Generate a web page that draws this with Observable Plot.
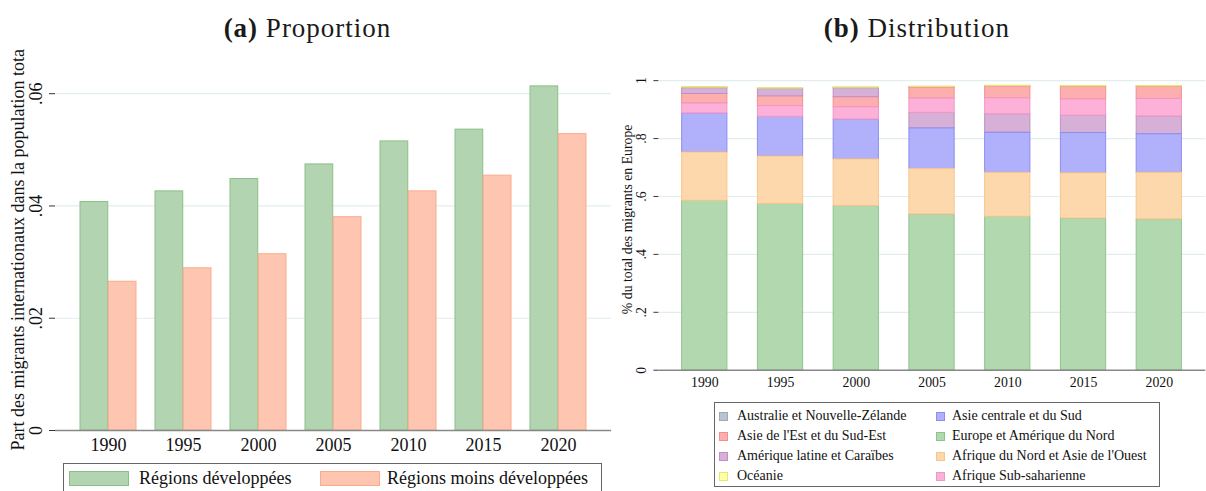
<!DOCTYPE html>
<html><head><meta charset="utf-8">
<script src="https://cdn.jsdelivr.net/npm/d3@7"></script>
<script src="https://cdn.jsdelivr.net/npm/@observablehq/plot@0.6"></script>
<style>
html,body{margin:0;padding:0;background:#fff;}
body{width:1206px;height:491px;overflow:hidden;position:relative;font-family:"Liberation Serif",serif;color:#111;}
.title{position:absolute;top:12px;font-size:27px;line-height:32px;letter-spacing:1px;text-align:center;font-family:"Liberation Serif",serif;color:#1a1a1a;}
#left,#right{position:absolute;top:50px;}
#left{left:0;} #right{left:600px;}
.legbox{position:absolute;box-sizing:border-box;border:1px solid #666;background:#fff;}
.sw{position:absolute;box-sizing:border-box;border:1px solid;}
.lt{position:absolute;white-space:nowrap;line-height:20px;}
</style></head><body>
<div class="title" style="left:0;width:615px"><b>(a)</b> Proportion</div>
<div class="title" style="left:620px;width:594px"><b>(b)</b> Distribution</div>
<div id="left"></div>
<div id="right"></div>
<div id="legL" class="legbox" style="left:63px;top:463px;width:539px;height:40px;"></div>
<div id="legR" class="legbox" style="left:714px;top:402px;width:446px;height:85px;"></div>
<script>
// ---------- data ----------
const years = [1990, 1995, 2000, 2005, 2010, 2015, 2020];

// Panel (a)
const leftSeries = ["Régions développées", "Régions moins développées"];
const devShare  = [0.0407, 0.0426, 0.0448, 0.0474, 0.0515, 0.0536, 0.0613];
const lessShare = [0.0265, 0.0289, 0.0314, 0.0380, 0.0426, 0.0454, 0.0528];
const leftFill   = ["#b3d4b1", "#fec5b0"];
const leftStroke = ["#8cbf89", "#fbab8e"];
const leftYTicks = [0, 0.02, 0.04, 0.06];

// Panel (b)
const regions = [
  "Australie et Nouvelle-Zélande",
  "Asie de l'Est et du Sud-Est",
  "Amérique latine et Caraïbes",
  "Océanie",
  "Asie centrale et du Sud",
  "Europe et Amérique du Nord",
  "Afrique du Nord et Asie de l'Ouest",
  "Afrique Sub-saharienne"
];
const australie   = [0.0020, 0.0015, 0.0015, 0.0020, 0.0015, 0.0020, 0.0020];
const asieEst     = [0.033, 0.034, 0.035, 0.038, 0.041, 0.043, 0.041];
const ameriqueLat = [0.020, 0.025, 0.031, 0.054, 0.064, 0.060, 0.0615];
const oceanie     = [0.0015, 0.0012, 0.0012, 0.0015, 0.0012, 0.0015, 0.0015];
const asieCentr   = [0.135, 0.137, 0.138, 0.140, 0.138, 0.139, 0.133];
const europeAmN   = [0.585, 0.574, 0.567, 0.538, 0.530, 0.524, 0.521];
const afriqueNord = [0.167, 0.164, 0.161, 0.157, 0.152, 0.156, 0.161];
const afriqueSub  = [0.034, 0.037, 0.042, 0.049, 0.055, 0.056, 0.0605];
const regionValues = [australie, asieEst, ameriqueLat, oceanie, asieCentr, europeAmN, afriqueNord, afriqueSub];
const regionFill   = ["#b8c4d0", "#fdaeae", "#d6b0d7", "#ffffa8", "#b0b0fb", "#b2d8b0", "#fdd8ad", "#fdb1d8"];
const regionStroke = ["#9aaabb", "#f48e8e", "#bf90c0", "#e6e670", "#8c8cf4", "#8cc489", "#f9c48a", "#f296c3"];
const rightYTicks = [0, 0.2, 0.4, 0.6, 0.8, 1];

// ---------- helpers ----------
const fmtTick = d => d === 0 ? "0" : d === 1 ? "1" : String(+d.toFixed(2)).replace(/^0/, "");
const gridColor = "#e3eded";

// ---------- panel (a) ----------
const leftData = years.flatMap((y, i) => [
  {year: y, s: 0, value: devShare[i]},
  {year: y, s: 1, value: lessShare[i]}
]);
const half = 28.25;
const leftPlot = Plot.plot({
  width: 611, height: 410,
  marginLeft: 55, marginRight: 0, marginTop: 18.5, marginBottom: 30,
  style: {fontFamily: "Liberation Serif", background: "transparent", overflow: "visible", color: "#111"},
  x: {type: "band", domain: years, paddingInner: 0.256, paddingOuter: 0.294},
  y: {domain: [0, 0.0644]},
  color: {type: "identity"},
  marks: [
    Plot.gridY(leftYTicks.filter(d => d > 0), {stroke: gridColor, strokeOpacity: 1, strokeWidth: 1.2}),
    Plot.barY(leftData.filter(d => d.s === 0), {x: "year", y: "value", fill: leftFill[0], stroke: leftStroke[0], insetRight: half}),
    Plot.barY(leftData.filter(d => d.s === 1), {x: "year", y: "value", fill: leftFill[1], stroke: leftStroke[1], insetLeft: half}),
    Plot.axisX({tickSize: 0, tickPadding: 8, fontSize: 18, tickFormat: d => `${d}`, label: null}),
    Plot.axisY({ticks: leftYTicks, tickFormat: fmtTick, tickRotate: -90, tickSize: 6, tickPadding: 8, fontSize: 18,
      line: true, stroke: "#333",
      label: "Part des migrants internationaux dans la population tota", labelAnchor: "center", labelOffset: 44, labelArrow: "none"}),
    Plot.ruleY([0], {stroke: "#888", strokeWidth: 1.5})
  ]
});
document.getElementById("left").appendChild(leftPlot);

// ---------- panel (b) ----------
const rightData = regions.flatMap((r, j) => years.map((y, i) => ({year: y, region: j, value: regionValues[j][i]})));
const rightPlot = Plot.plot({
  width: 616, height: 350,
  marginLeft: 59.3, marginRight: 0.7, marginTop: 18.3, marginBottom: 25,
  style: {fontFamily: "Liberation Serif", background: "transparent", overflow: "visible", color: "#111"},
  x: {type: "band", domain: years, paddingInner: 0.401, paddingOuter: 0.289},
  y: {domain: [0, 1.042]},
  color: {type: "identity"},
  marks: [
    Plot.gridY(rightYTicks.filter(d => d > 0), {stroke: gridColor, strokeOpacity: 1, strokeWidth: 1.2}),
    Plot.barY(rightData, {x: "year", y: "value", fill: d => regionFill[d.region], stroke: d => regionStroke[d.region],
      order: "value", reverse: true}),
    Plot.axisX({tickSize: 0, tickPadding: 7, fontSize: 14, tickFormat: d => `${d}`, label: null}),
    Plot.axisY({ticks: rightYTicks, tickFormat: fmtTick, tickRotate: -90, tickSize: 5, tickPadding: 8, fontSize: 14,
      line: true, stroke: "#333",
      label: "% du total des migrants en Europe", labelAnchor: "center", labelOffset: 37, labelArrow: "none"}),
    Plot.ruleY([0], {stroke: "#888", strokeWidth: 1.5})
  ]
});
document.getElementById("right").appendChild(rightPlot);

// ---------- legends ----------
const legL = document.getElementById("legL");
const legLPos = [{sw: 5, tx: 75}, {sw: 256, tx: 323}];
leftSeries.forEach((name, i) => {
  const sw = document.createElement("div");
  sw.className = "sw";
  Object.assign(sw.style, {left: legLPos[i].sw + "px", top: "7px", width: "60px", height: "15px",
    background: leftFill[i], borderColor: leftStroke[i]});
  legL.appendChild(sw);
  const t = document.createElement("div");
  t.className = "lt";
  Object.assign(t.style, {left: legLPos[i].tx + "px", top: "4px", fontSize: "18px"});
  t.textContent = name;
  legL.appendChild(t);
});
const legR = document.getElementById("legR");
regions.forEach((name, j) => {
  const col = j < 4 ? 0 : 1, row = j % 4;
  const sw = document.createElement("div");
  sw.className = "sw";
  Object.assign(sw.style, {left: (col ? 221 : 4) + "px", top: (9 + row * 20) + "px", width: "9px", height: "9px",
    background: regionFill[j], borderColor: regionStroke[j]});
  legR.appendChild(sw);
  const t = document.createElement("div");
  t.className = "lt";
  Object.assign(t.style, {left: (col ? 237 : 22) + "px", top: (3 + row * 20) + "px", fontSize: "14px"});
  t.textContent = name;
  legR.appendChild(t);
});
</script>
</body></html>
